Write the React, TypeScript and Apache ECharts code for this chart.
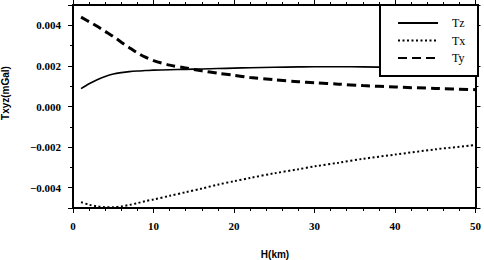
import React, { useEffect, useRef } from "react";
import * as echarts from "echarts";

const H = [1, 2, 3, 4, 5, 6, 7, 8, 9, 10, 12, 14, 16, 18, 20, 22, 25, 28, 30, 33, 36, 40, 45, 50];
const Tz = [0.00088, 0.00112, 0.00132, 0.00148, 0.0016, 0.00167, 0.00172, 0.00175, 0.00177, 0.00179, 0.00181, 0.00183, 0.00185, 0.00187, 0.00189, 0.00191, 0.00193, 0.00195, 0.00196, 0.00196, 0.00195, 0.00193, 0.0019, 0.00187];
const Tx = [-0.00471, -0.00484, -0.00492, -0.00496, -0.00496, -0.00492, -0.00485, -0.00476, -0.00466, -0.00458, -0.0044, -0.00422, -0.00404, -0.00385, -0.00368, -0.00352, -0.00329, -0.00309, -0.00295, -0.00277, -0.00258, -0.00237, -0.00211, -0.0019];
const Ty = [0.0044, 0.00418, 0.00395, 0.0037, 0.00345, 0.00317, 0.0029, 0.00264, 0.00243, 0.00226, 0.00204, 0.0019, 0.00176, 0.00164, 0.00154, 0.00143, 0.00132, 0.00122, 0.00117, 0.0011, 0.00103, 0.00096, 0.00089, 0.00083];
const seriesNames = ["Tz", "Tx", "Ty"];
const xTitle = "H(km)";
const yTitle = "Txyz(mGal)";

const serif = "'Liberation Serif', 'DejaVu Serif', serif";
const sans = "'Liberation Sans', Arial, sans-serif";

export default function App() {
  const ref = useRef<HTMLDivElement>(null);
  useEffect(() => {
    const chart = echarts.init(ref.current!, undefined, { renderer: "svg" });
    const pairs = (ys: number[]) => H.map((h, i) => [h, ys[i]]);
    const axisLine = { show: true, onZero: false, lineStyle: { color: "#000", width: 2 } };
    const yFmt = (v: number) => {
      if (Math.abs(v) > 0.0045) return "";
      const s = Math.abs(v).toFixed(3);
      return v < -1e-9 ? "\u2212" + s : s;
    };
    chart.setOption({
      animation: false,
      backgroundColor: "#fff",
      grid: { left: 73, right: 6, top: 5, bottom: 52, containLabel: false },
      xAxis: [
        {
          type: "value", position: "bottom", min: 0, max: 50, interval: 10,
          axisLine,
          axisTick: { show: true, inside: false, length: 5, lineStyle: { color: "#000", width: 1 } },
          minorTick: { show: true, splitNumber: 5, length: 3, lineStyle: { color: "#000", width: 1 } },
          splitLine: { show: false },
          axisLabel: { show: true, margin: 12, color: "#000", fontSize: 11, fontFamily: serif, fontWeight: "bold" },
        },
        {
          type: "value", position: "top", min: 0, max: 50, interval: 10,
          axisLine,
          axisTick: { show: true, inside: false, length: 5, lineStyle: { color: "#000", width: 1 } },
          minorTick: { show: true, splitNumber: 5, length: 3, lineStyle: { color: "#000", width: 1 } },
          splitLine: { show: false },
          axisLabel: { show: false },
        },
      ],
      yAxis: [
        {
          type: "value", position: "left", min: -0.005, max: 0.005, splitNumber: 5,
          axisLine,
          axisTick: { show: true, inside: false, length: 5, lineStyle: { color: "#000", width: 1 } },
          minorTick: { show: true, splitNumber: 2, length: 3, lineStyle: { color: "#000", width: 1 } },
          splitLine: { show: false },
          axisLabel: { show: true, margin: 12, color: "#000", fontSize: 11, fontFamily: serif, fontWeight: "bold", formatter: yFmt },
        },
        {
          type: "value", position: "right", min: -0.005, max: 0.005, splitNumber: 5,
          axisLine,
          axisTick: { show: true, inside: false, length: 5, lineStyle: { color: "#000", width: 1 } },
          minorTick: { show: true, splitNumber: 2, length: 3, lineStyle: { color: "#000", width: 1 } },
          splitLine: { show: false },
          axisLabel: { show: false },
        },
      ],
      legend: {
        show: true,
        orient: "vertical",
        left: 397,
        top: 17,
        padding: 0,
        itemWidth: 40,
        itemHeight: 14,
        itemGap: 5.5,
        z: 20,
        data: seriesNames,
        itemStyle: { opacity: 0, borderWidth: 0 },
        textStyle: { color: "#000", fontSize: 12, fontFamily: serif, padding: [0, 0, 0, 9] },
      },
      graphic: [
        {
          type: "rect", z: 10, shape: { x: 380, y: 5, width: 98, height: 71 },
          style: { fill: "#fff", stroke: "#000", lineWidth: 2 },
        },
        {
          type: "text", x: 275, y: 254,
          style: { text: xTitle, fill: "#000", font: `bold 10px ${sans}`, align: "center", verticalAlign: "middle" },
        },
        {
          type: "text", x: 5, y: 93, rotation: Math.PI / 2,
          style: { text: yTitle, fill: "#000", font: `bold 10px ${sans}`, align: "center", verticalAlign: "middle" },
        },
      ],
      series: [
        {
          name: seriesNames[0], type: "line", data: pairs(Tz), smooth: 0.3, symbol: "none",
          lineStyle: { color: "#000", width: 1.6, type: "solid" }, itemStyle: { color: "#000" }, z: 2,
        },
        {
          name: seriesNames[1], type: "line", data: pairs(Tx), smooth: 0.3, symbol: "none",
          lineStyle: { color: "#000", width: 2, type: [2, 2.5] }, itemStyle: { color: "#000" }, z: 2,
        },
        {
          name: seriesNames[2], type: "line", data: pairs(Ty), smooth: 0.3, symbol: "none",
          lineStyle: { color: "#000", width: 3, type: [9, 5] }, itemStyle: { color: "#000" }, z: 2,
        },
      ],
    });
    return () => chart.dispose();
  }, []);
  return <div ref={ref} style={{ position: "absolute", left: 0, top: 0, width: 484, height: 260 }} />;
}
